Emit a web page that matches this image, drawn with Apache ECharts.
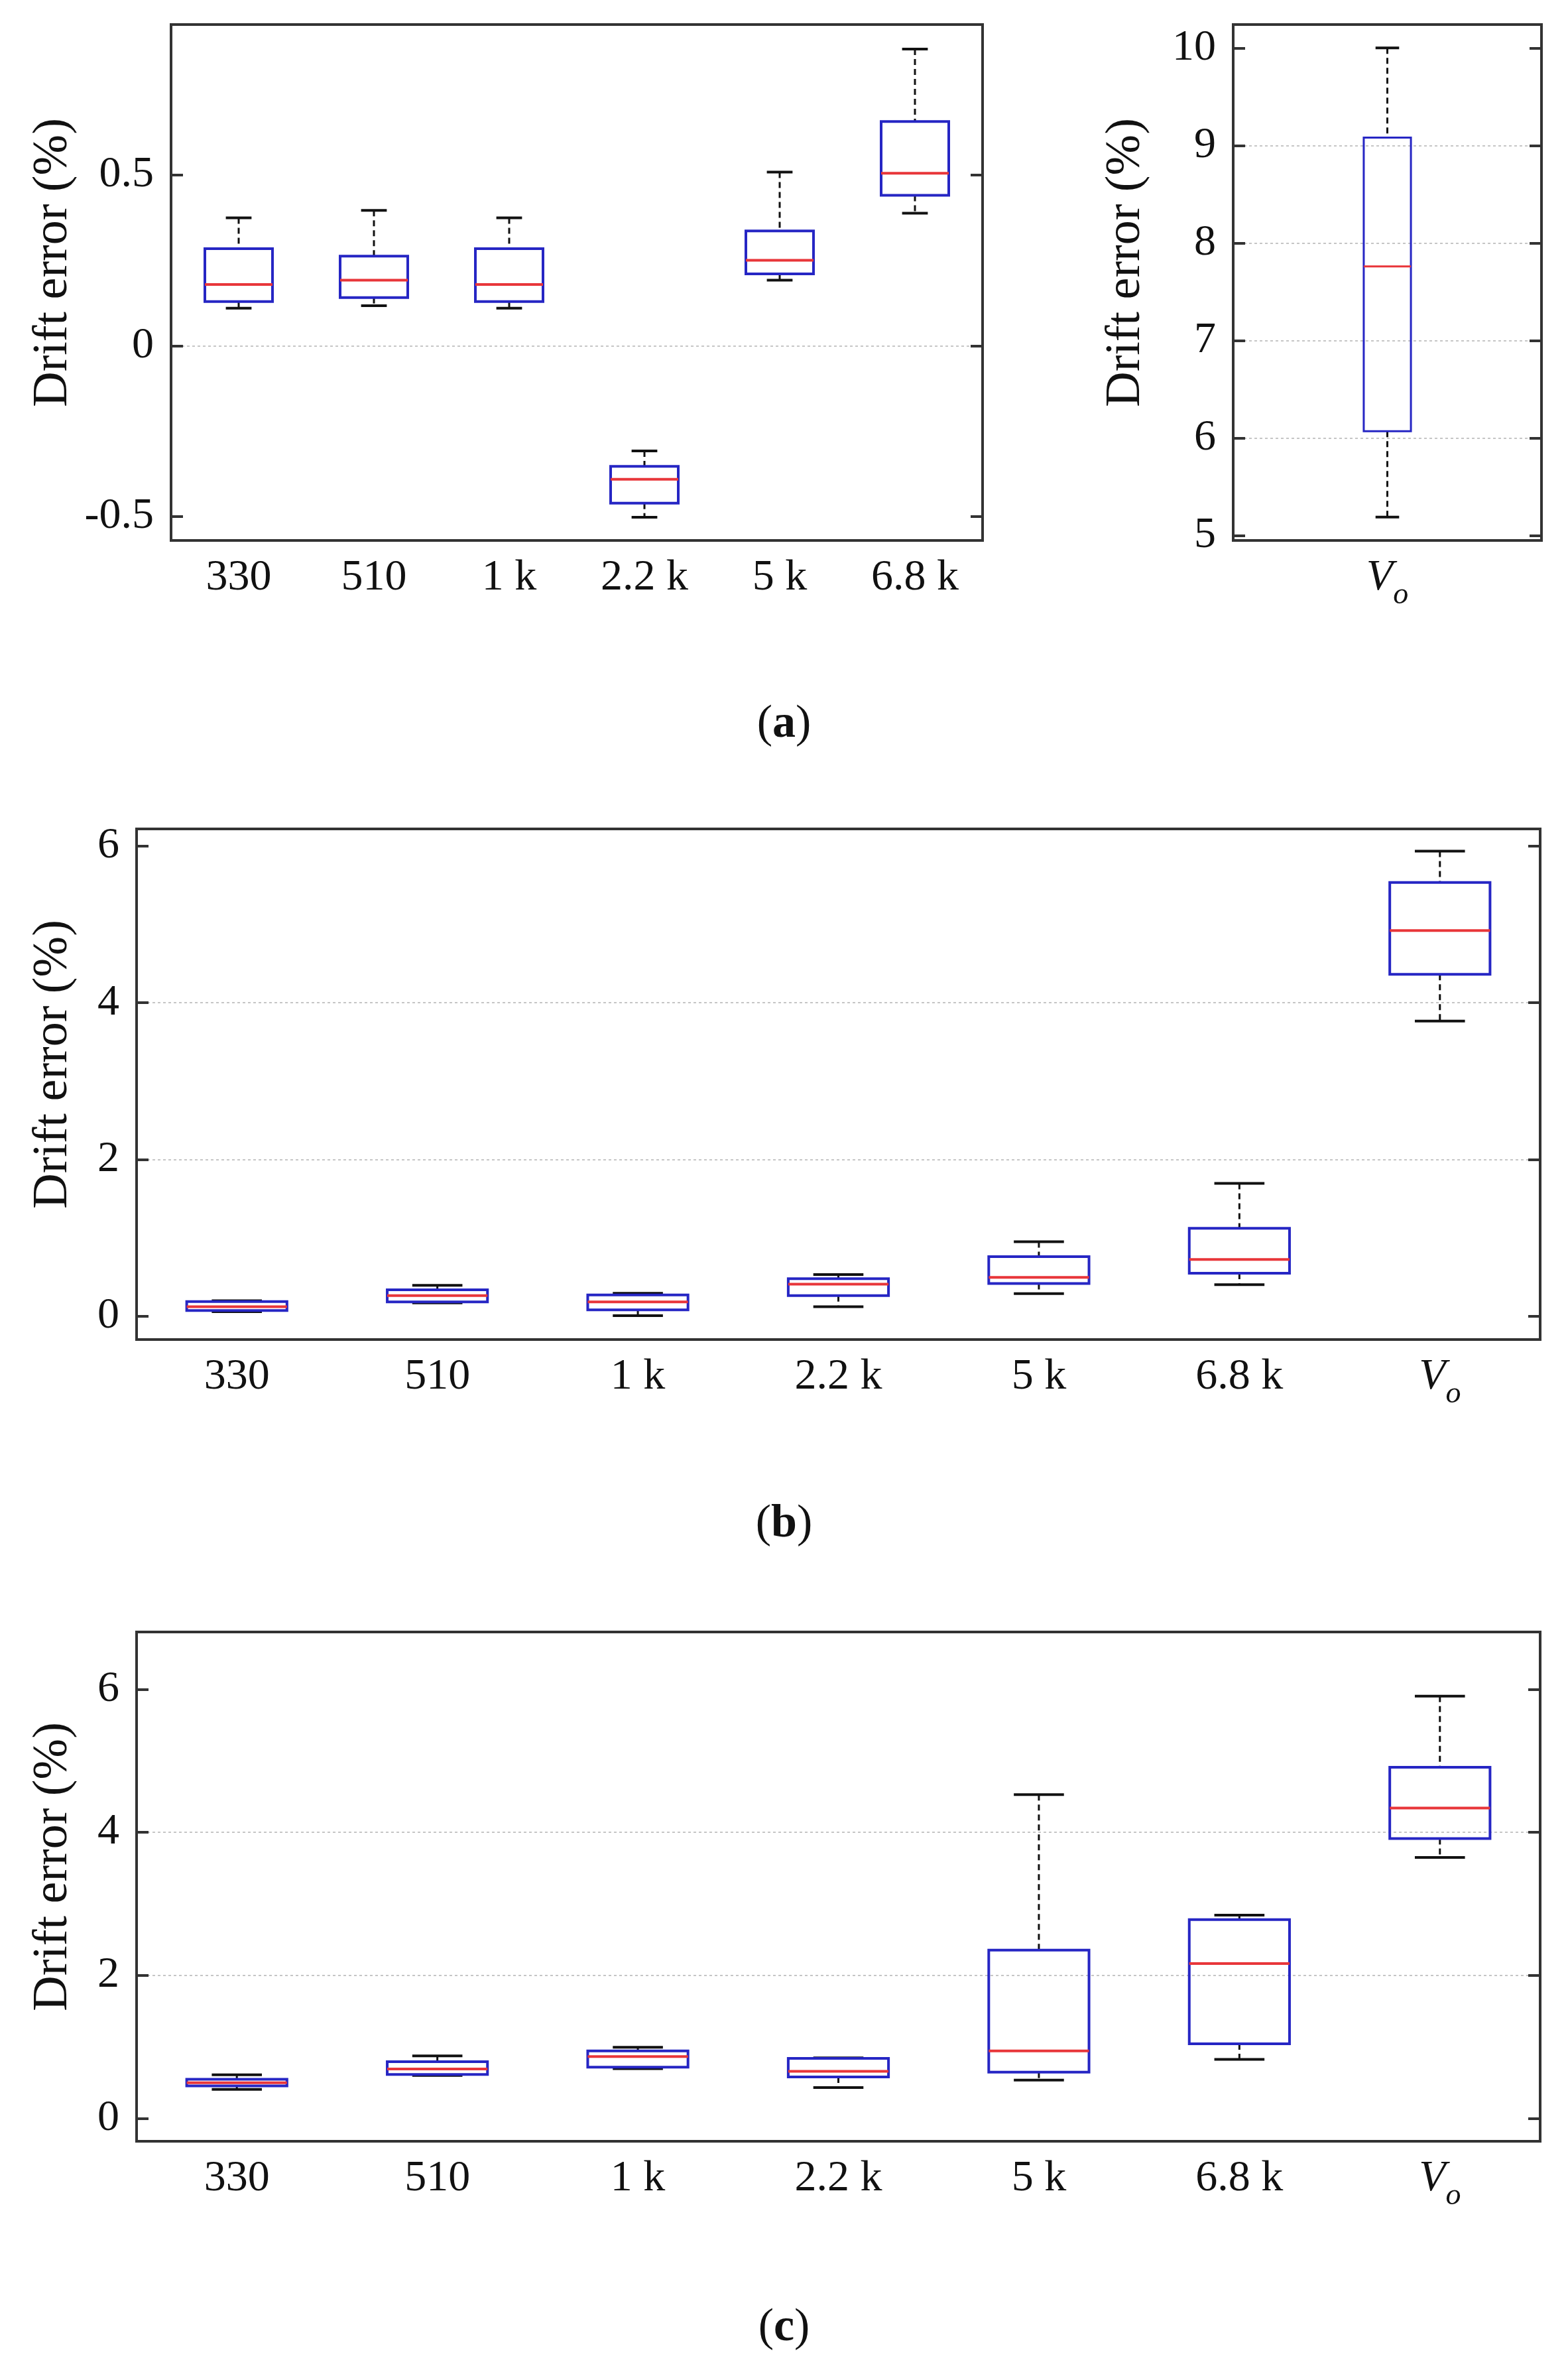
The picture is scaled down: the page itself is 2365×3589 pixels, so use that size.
<!DOCTYPE html>
<html>
<head>
<meta charset="utf-8">
<title>Drift error box plots</title>
<script src="https://cdn.jsdelivr.net/npm/echarts@6.0.0/dist/echarts.min.js"></script>
<style>
  html, body { margin: 0; padding: 0; background: #ffffff; }
  #chart { width: 2365px; height: 3589px; }
</style>
</head>
<body>
<div id="chart"></div>
<script>
/* Box plots of drift error for each load resistor and for Vo */

// category labels
var loadNames = ['330', '510', '1 k', '2.2 k', '5 k', '6.8 k'];
var loadNamesVo = ['330', '510', '1 k', '2.2 k', '5 k', '6.8 k', 'Vo'];
var voOnly = ['Vo'];

// y tick values of each panel
var ticksA = [-0.5, 0, 0.5];
var ticksAVo = [5, 6, 7, 8, 9, 10];
var ticksB = [0, 2, 4, 6];
var ticksC = [0, 2, 4, 6];

// box statistics, one row per category: [lower whisker, Q1, median, Q3, upper whisker]
var driftA = [
    [0.110, 0.129, 0.179, 0.284, 0.374],
    [0.117, 0.141, 0.192, 0.262, 0.396],
    [0.110, 0.129, 0.179, 0.284, 0.374],
    [-0.502, -0.461, -0.391, -0.353, -0.308],
    [0.192, 0.210, 0.250, 0.336, 0.508],
    [0.388, 0.440, 0.505, 0.656, 0.868]
];
var driftAVo = [
    [5.19, 6.07, 7.76, 9.08, 10.0]
];
var driftB = [
    [0.055, 0.071, 0.120, 0.185, 0.195],
    [0.168, 0.181, 0.260, 0.335, 0.393],
    [0.004, 0.079, 0.181, 0.269, 0.291],
    [0.119, 0.260, 0.406, 0.476, 0.529],
    [0.287, 0.415, 0.494, 0.759, 0.948],
    [0.401, 0.547, 0.723, 1.120, 1.694],
    [3.767, 4.363, 4.923, 5.536, 5.937]
];
var driftC = [
    [0.406, 0.454, 0.498, 0.546, 0.609],
    [0.599, 0.614, 0.691, 0.792, 0.874],
    [0.696, 0.715, 0.865, 0.942, 0.995],
    [0.430, 0.580, 0.657, 0.840, 0.845],
    [0.536, 0.647, 0.942, 2.353, 4.527],
    [0.826, 1.043, 2.164, 2.778, 2.841],
    [3.647, 3.913, 4.338, 4.908, 5.903]
];

var FONT = 'Liberation Serif';
var INK = '#111111';
var FRAME = '#333333';
var BOX_BLUE = '#2626c4';
var MEDIAN_RED = '#e8363a';

// prepend the category index so the custom series can place each box
function toSeriesData(rows) {
    return rows.map(function (r, i) { return [i].concat(r); });
}

// draws a MATLAB style box: blue box, red median, dashed black whiskers
function boxRenderer(boxRatio, capRatio, lineW) {
    return function (params, api) {
        var idx = api.value(0);
        var lo = api.coord([idx, api.value(1)]);
        var q1 = api.coord([idx, api.value(2)]);
        var md = api.coord([idx, api.value(3)]);
        var q3 = api.coord([idx, api.value(4)]);
        var hi = api.coord([idx, api.value(5)]);
        var band = api.size([1, 0])[0];
        var halfBox = band * boxRatio / 2;
        var halfCap = halfBox * capRatio;
        var cx = md[0];
        var dashStyle = { stroke: INK, lineWidth: 3, lineDash: [9, 6], fill: null };
        var capStyle = { stroke: INK, lineWidth: 4, fill: null };
        return {
            type: 'group',
            children: [
                { type: 'line', shape: { x1: cx, y1: hi[1], x2: cx, y2: q3[1] }, style: dashStyle },
                { type: 'line', shape: { x1: cx, y1: q1[1], x2: cx, y2: lo[1] }, style: dashStyle },
                { type: 'line', shape: { x1: cx - halfCap, y1: hi[1], x2: cx + halfCap, y2: hi[1] }, style: capStyle },
                { type: 'line', shape: { x1: cx - halfCap, y1: lo[1], x2: cx + halfCap, y2: lo[1] }, style: capStyle },
                {
                    type: 'rect',
                    shape: { x: cx - halfBox, y: q3[1], width: halfBox * 2, height: q1[1] - q3[1] },
                    style: { fill: null, stroke: BOX_BLUE, lineWidth: lineW }
                },
                { type: 'line', shape: { x1: cx - halfBox, y1: md[1], x2: cx + halfBox, y2: md[1] }, style: { stroke: MEDIAN_RED, lineWidth: lineW } }
            ]
        };
    };
}

function gridBox(left, top, width, height) {
    return {
        left: left, top: top, width: width, height: height,
        show: true, borderColor: FRAME, borderWidth: 4,
        backgroundColor: 'transparent',
        containLabel: false, outerBoundsMode: 'none'
    };
}

function categoryAxis(gridIndex, names) {
    return {
        type: 'category',
        gridIndex: gridIndex,
        data: names,
        boundaryGap: true,
        axisLine: { show: false },
        axisTick: { show: false },
        splitLine: { show: false },
        axisLabel: {
            interval: 0,
            margin: 24,
            fontFamily: FONT,
            fontSize: 66,
            color: INK,
            formatter: function (v) { return v === 'Vo' ? '{v|V}{s|o}' : v; },
            rich: {
                v: { fontFamily: FONT, fontSize: 66, fontStyle: 'italic', color: INK, lineHeight: 66, verticalAlign: 'top' },
                s: { fontFamily: FONT, fontSize: 46, fontStyle: 'italic', color: INK, lineHeight: 82, verticalAlign: 'bottom' }
            }
        }
    };
}

// left axis carries labels, title and grid lines; right axis only mirrors the ticks
function valueAxis(gridIndex, min, max, ticks, onRight, nameGap) {
    var axis = {
        type: 'value',
        gridIndex: gridIndex,
        position: onRight ? 'right' : 'left',
        min: min,
        max: max,
        axisLine: { show: false },
        axisTick: { show: true, inside: true, length: 18, customValues: ticks, lineStyle: { color: FRAME, width: 4 } },
        axisLabel: { show: false },
        splitLine: { show: false }
    };
    if (!onRight) {
        axis.name = 'Drift error (%)';
        axis.nameLocation = 'middle';
        axis.nameGap = nameGap;
        axis.nameMoveOverlap = false;
        axis.nameTextStyle = {
            fontFamily: FONT, fontSize: 74, color: INK, lineHeight: 74,
            padding: [0, 0, 0, 60]
        };
        axis.axisLabel = {
            show: true, margin: 26, fontFamily: FONT, fontSize: 66, color: INK,
            customValues: ticks
        };
        axis.splitLine = {
            show: true, showMinLine: false, showMaxLine: false,
            lineStyle: { type: [4, 4], color: '#c6c6c6', width: 2 }
        };
    }
    return axis;
}

function captionTitle(letter, top) {
    return {
        text: '({b|' + letter + '})',
        left: 'center',
        top: top,
        padding: 0,
        textStyle: {
            fontFamily: FONT, fontSize: 70, fontWeight: 'normal', color: INK,
            rich: { b: { fontFamily: FONT, fontSize: 70, fontWeight: 'bold', color: INK } }
        }
    };
}

var myChart = echarts.init(document.getElementById('chart'), null, { renderer: 'canvas' });

var option = {
    backgroundColor: '#ffffff',
    animation: false,
    title: [
        captionTitle('a', 1058),
        captionTitle('b', 2264),
        captionTitle('c', 3476)
    ],
    grid: [
        gridBox(258, 37, 1224, 778),    // (a) resistors
        gridBox(1860, 37, 465, 778),    // (a) Vo
        gridBox(206, 1250, 2117, 770),  // (b)
        gridBox(206, 2461, 2117, 768)   // (c)
    ],
    xAxis: [
        categoryAxis(0, loadNames),
        categoryAxis(1, voOnly),
        categoryAxis(2, loadNamesVo),
        categoryAxis(3, loadNamesVo)
    ],
    yAxis: [
        valueAxis(0, -0.57, 0.94, ticksA, false, 140),
        valueAxis(0, -0.57, 0.94, ticksA, true),
        valueAxis(1, 4.95, 10.24, ticksAVo, false, 124),
        valueAxis(1, 4.95, 10.24, ticksAVo, true),
        valueAxis(2, -0.3, 6.22, ticksB, false, 88),
        valueAxis(2, -0.3, 6.22, ticksB, true),
        valueAxis(3, -0.32, 6.8, ticksC, false, 88),
        valueAxis(3, -0.32, 6.8, ticksC, true)
    ],
    series: [
        {
            type: 'custom', name: 'a', xAxisIndex: 0, yAxisIndex: 0,
            renderItem: boxRenderer(0.5, 0.38, 4),
            encode: { x: 0, y: [1, 2, 3, 4, 5] },
            data: toSeriesData(driftA)
        },
        {
            type: 'custom', name: 'a Vo', xAxisIndex: 1, yAxisIndex: 2,
            renderItem: boxRenderer(0.153, 0.5, 3),
            encode: { x: 0, y: [1, 2, 3, 4, 5] },
            data: toSeriesData(driftAVo)
        },
        {
            type: 'custom', name: 'b', xAxisIndex: 2, yAxisIndex: 4,
            renderItem: boxRenderer(0.5, 0.5, 4),
            encode: { x: 0, y: [1, 2, 3, 4, 5] },
            data: toSeriesData(driftB)
        },
        {
            type: 'custom', name: 'c', xAxisIndex: 3, yAxisIndex: 6,
            renderItem: boxRenderer(0.5, 0.5, 4),
            encode: { x: 0, y: [1, 2, 3, 4, 5] },
            data: toSeriesData(driftC)
        }
    ]
};

myChart.setOption(option);
</script>
</body>
</html>
